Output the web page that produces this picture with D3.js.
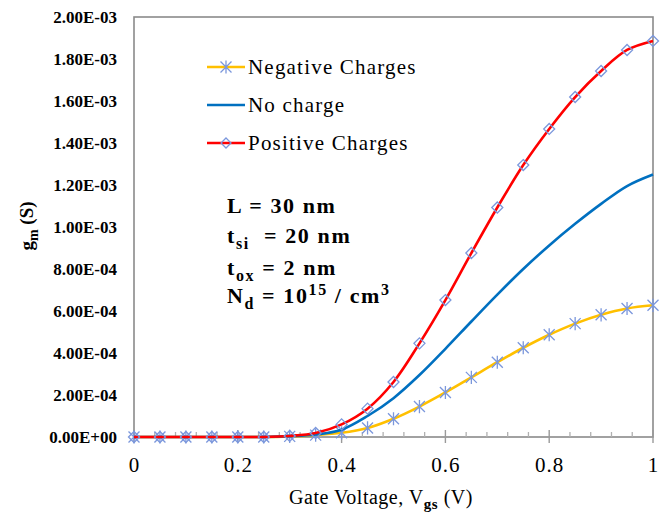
<!DOCTYPE html>
<html><head><meta charset="utf-8">
<script src="https://cdn.jsdelivr.net/npm/d3@7/dist/d3.min.js"></script>
<style>
html,body{margin:0;padding:0;background:#fff;}
svg{display:block;}
</style></head>
<body><svg id="chart" width="670" height="515"></svg>
<script>
const vgs = [0,0.05,0.1,0.15,0.2,0.25,0.3,0.35,0.4,0.45,0.5,0.55,0.6,0.65,0.7,0.75,0.8,0.85,0.9,0.95,1];
const negativeCharges = [0,0,0,0,0,0,0.000003,0.000009,0.000020,0.000043,0.000087,0.000145,0.000212,0.000284,0.000356,0.000425,0.000487,0.000540,0.000582,0.000612,0.000627];
const noCharge = [0,0,0,0,0,0,0.000004,0.000012,0.000035,0.000100,0.000185,0.000295,0.000420,0.000550,0.000678,0.000800,0.000912,0.001015,0.001110,0.001195,0.001250];
const positiveCharges = [0,0,0,0,0,0,0.000005,0.000019,0.000060,0.000135,0.000262,0.000446,0.000652,0.000876,0.001093,0.001295,0.001467,0.001619,0.001743,0.001843,0.001886];
const seriesNames = ["Negative Charges","No charge","Positive Charges"];
const xTickValues = [0,0.2,0.4,0.6,0.8,1];
const xTickLabels = ["0","0.2","0.4","0.6","0.8","1"];
const yTickValues = [0,0.0002,0.0004,0.0006,0.0008,0.0010,0.0012,0.0014,0.0016,0.0018,0.0020];
const yTickLabels = ["0.00E+00","2.00E-04","4.00E-04","6.00E-04","8.00E-04","1.00E-03","1.20E-03","1.40E-03","1.60E-03","1.80E-03","2.00E-03"];

const FONT = '"Liberation Serif"';
const svg = d3.select("#chart");
const L = 134, R = 653, T = 17, B = 437;
const x = d3.scaleLinear().domain([0,1]).range([L,R]);
const y = d3.scaleLinear().domain([0,0.002]).range([B,T]);

const colors = ["#FFC000","#0070C0","#FF0000"];
const markerColor = "#7b97dc";

function serif(sel){ return sel.attr("font-family","Liberation Serif").style("font-family",FONT).attr("fill","#000"); }

// frame
svg.append("rect").attr("x",L).attr("y",T).attr("width",R-L).attr("height",B-T)
  .attr("fill","none").attr("stroke","#8a8a8a").attr("stroke-width",1.6);

// minor ticks on x
const minor = d3.range(0,1.0001,0.04).filter(v=>!xTickValues.some(t=>Math.abs(t-v)<1e-6));
svg.append("g").selectAll("line").data(minor).join("line")
  .attr("x1",d=>x(d)).attr("x2",d=>x(d)).attr("y1",B-5).attr("y2",B)
  .attr("stroke","#b0b0b0").attr("stroke-width",1.3);
svg.append("g").selectAll("line").data(xTickValues).join("line")
  .attr("x1",d=>x(d)).attr("x2",d=>x(d)).attr("y1",B-7).attr("y2",B+6)
  .attr("stroke","#9a9a9a").attr("stroke-width",1.4);

// x axis labels
const xAxis = d3.axisBottom(x).tickValues(xTickValues).tickSize(0).tickPadding(0)
  .tickFormat((d,i)=>xTickLabels[i]);
const gx = svg.append("g").attr("transform",`translate(0,${B})`).call(xAxis)
  .attr("font-family","Liberation Serif");
gx.select(".domain").remove();
serif(gx.selectAll("text")).attr("y",null).attr("dy",null).attr("transform","translate(0,35)")
  .style("font-size","21px").style("letter-spacing","1px");

// y axis labels
const yAxis = d3.axisLeft(y).tickValues(yTickValues).tickSize(0).tickPadding(17)
  .tickFormat((d,i)=>yTickLabels[i]);
const gy = svg.append("g").attr("transform",`translate(${L},0)`).call(yAxis)
  .attr("font-family","Liberation Serif");
gy.select(".domain").remove();
serif(gy.selectAll("text")).attr("dy","0.34em")
  .style("font-size","17px").style("font-weight","bold");

// axis titles
const xt = serif(svg.append("text")).attr("x",381).attr("y",504).attr("text-anchor","middle")
  .style("font-size","20px").style("letter-spacing","0.5px");
xt.append("tspan").text("Gate Voltage, V");
xt.append("tspan").attr("dy",5).style("font-size","15px").style("font-weight","bold").text("gs");
xt.append("tspan").attr("dy",-5).text(" (V)");

const yt = serif(svg.append("text")).attr("transform","translate(33,226) rotate(-90)")
  .attr("text-anchor","middle").style("font-size","19px").style("font-weight","bold");
yt.append("tspan").text("g");
yt.append("tspan").attr("dy",5).style("font-size","14px").text("m");
yt.append("tspan").attr("dy",-5).text(" (S)");

// lines
const data = [negativeCharges,noCharge,positiveCharges];
const line = d3.line().x((d,i)=>x(vgs[i])).y(d=>y(d)).curve(d3.curveCatmullRom.alpha(0.5));

function asterisk(g, cx, cy, s){
  const p = `M${cx-s},${cy-s}L${cx+s},${cy+s}M${cx-s},${cy+s}L${cx+s},${cy-s}M${cx},${cy-s*1.2}L${cx},${cy+s*1.2}`;
  g.append("path").attr("d",p).attr("stroke",markerColor).attr("stroke-width",1.3).attr("fill","none");
}
function diamond(g, cx, cy, s){
  g.append("path").attr("d",`M${cx},${cy-s}L${cx+s},${cy}L${cx},${cy+s}L${cx-s},${cy}Z`)
    .attr("stroke",markerColor).attr("stroke-width",1.3).attr("fill","none");
}

data.forEach((vals,k)=>{
  const g = svg.append("g");
  g.append("path").datum(vals).attr("d",line).attr("fill","none")
    .attr("stroke",colors[k]).attr("stroke-width",2.6);
  vals.forEach((v,i)=>{
    if(k===0) asterisk(g, x(vgs[i]), y(v), 5.5);
    if(k===2) diamond(g, x(vgs[i]), y(v), 5.5);
  });
});

// legend
const legendY = [67,105,143];
seriesNames.forEach((name,k)=>{
  const g = svg.append("g");
  g.append("line").attr("x1",207).attr("x2",245).attr("y1",legendY[k]).attr("y2",legendY[k])
    .attr("stroke",colors[k]).attr("stroke-width",2.6);
  if(k===0) asterisk(g,226,legendY[k],5.5);
  if(k===2) diamond(g,226,legendY[k],5);
  serif(g.append("text")).attr("x",248).attr("y",legendY[k]+7)
    .style("font-size","21px").style("letter-spacing","1.2px").text(name);
});

// annotation
function ann(yy){ return serif(svg.append("text")).attr("x",227).attr("y",yy)
  .style("font-weight","bold").style("font-size","22px").style("letter-spacing","1.6px").style("white-space","pre"); }
ann(213).text("L = 30 nm");
const a2 = ann(243);
a2.append("tspan").text("t");
a2.append("tspan").attr("dy",6).style("font-size","16px").text("si");
a2.append("tspan").attr("dy",-6).text("  = 20 nm");
const a3 = ann(275);
a3.append("tspan").text("t");
a3.append("tspan").attr("dy",6).style("font-size","16px").text("ox");
a3.append("tspan").attr("dy",-6).text(" = 2 nm");
const a4 = ann(303);
a4.append("tspan").text("N");
a4.append("tspan").attr("dy",6).style("font-size","16px").text("d");
a4.append("tspan").attr("dy",-6).text(" = 10");
a4.append("tspan").attr("dy",-8).style("font-size","16px").text("15");
a4.append("tspan").attr("dy",8).text(" / cm");
a4.append("tspan").attr("dy",-8).style("font-size","16px").text("3");
</script></body></html>
